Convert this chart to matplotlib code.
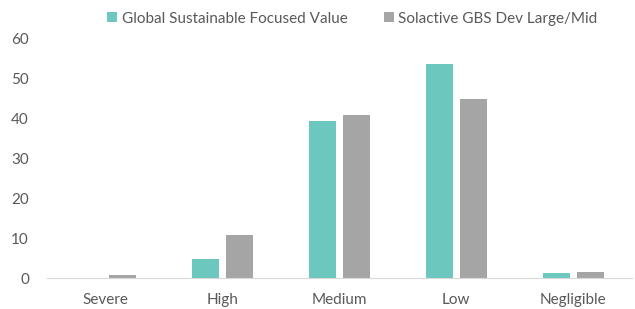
import numpy as np
import matplotlib.pyplot as plt

plt.rcParams['font.family'] = ['Lato', 'DejaVu Sans']

categories = ['Severe', 'High', 'Medium', 'Low', 'Negligible']
fund = [0.0, 4.8, 39.2, 53.5, 1.3]
index = [0.8, 10.8, 40.8, 44.7, 1.6]
series_names = ['Global Sustainable Focused Value', 'Solactive GBS Dev Large/Mid']

ind = np.arange(len(categories))
width = 0.23
offset = 0.145

fig = plt.figure(figsize=(6.35, 3.09), dpi=100)
ax = fig.add_axes([0.074, 0.1, 0.921, 0.777])

b1 = ax.bar(ind - offset, fund, width, color='#6CC7BE', label=series_names[0])
b2 = ax.bar(ind + offset, index, width, color='#A5A5A5', label=series_names[1])

ax.set_xlim(-0.5, len(categories) - 0.5)
ax.set_ylim(0, 60)
ax.set_yticks(range(0, 61, 10))
ax.set_xticks(ind)
ax.set_xticklabels(categories)

for s in ['top', 'right', 'left']:
    ax.spines[s].set_visible(False)
ax.spines['bottom'].set_color('#D9D9D9')
ax.tick_params(axis='both', length=0, labelsize=11, colors='#595959')
ax.tick_params(axis='y', pad=13)
ax.tick_params(axis='x', pad=11)

fig.legend(handles=[b1, b2], loc='center', bbox_to_anchor=(0.555, 0.94), ncol=2,
           frameon=False, fontsize=11, labelcolor='#595959',
           handlelength=0.65, handleheight=0.65, handletextpad=0.3, columnspacing=2.35)

fig.savefig('out.png', dpi=100)
